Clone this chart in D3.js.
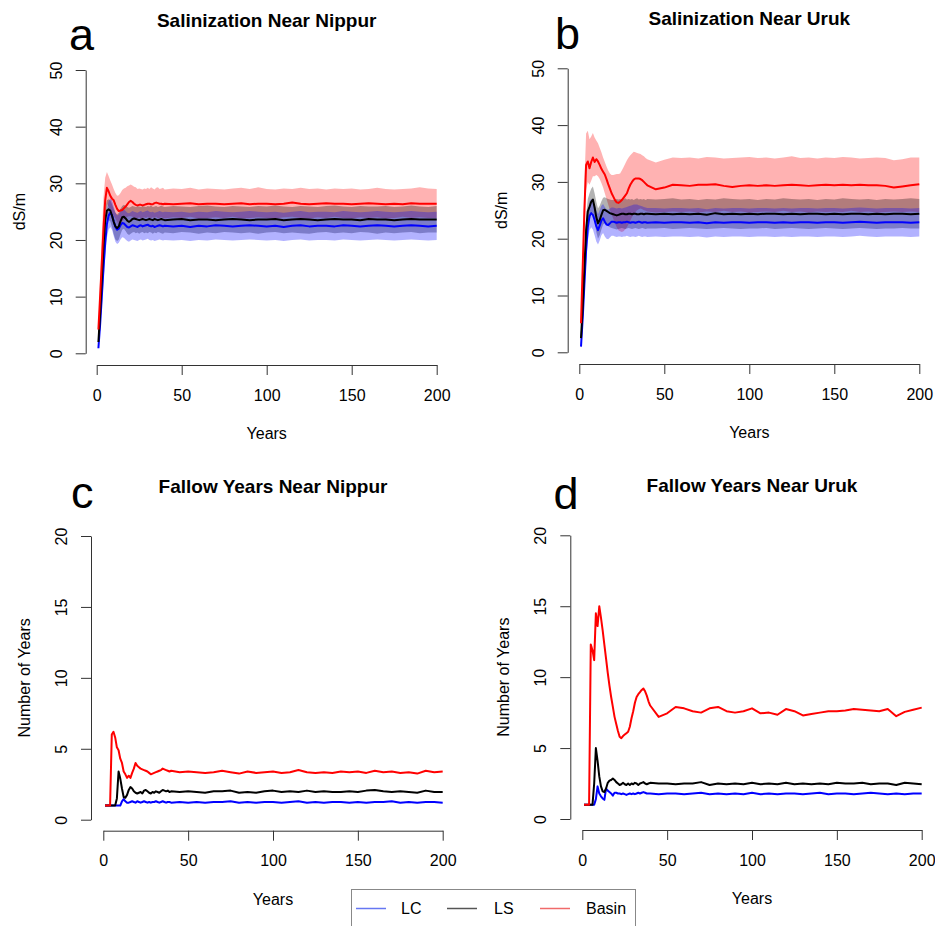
<!DOCTYPE html>
<html>
<head>
<meta charset="utf-8">
<title>Salinization and Fallow Years</title>
<script src="https://cdn.jsdelivr.net/npm/d3@7"></script>
<style>
  body { margin: 0; background: #fff; }
  svg { display: block; }
</style>
</head>
<body>
<svg id="chart" width="935" height="926"></svg>
<script>
// years simulated (yearly to 40, then every 5th year)
var years = [1,2,3,4,5,6,7,8,9,10,11,12,13,14,15,16,17,18,19,20,21,22,23,24,25,26,27,28,29,30,31,32,33,34,35,36,37,38,39,40,
  45,50,55,60,65,70,75,80,85,90,95,100,105,110,115,120,125,130,135,140,145,150,155,160,165,170,175,180,185,190,195,200];

var xTicks = [0, 50, 100, 150, 200];
var salinTicks = [0, 10, 20, 30, 40, 50];
var fallowTicks = [0, 5, 10, 15, 20];
var seriesNames = ['LC', 'LS', 'Basin'];

// a: salinization near Nippur
var aBasin = [4.2,10,16,22,27,29.2,28.6,27.8,27.3,27.0,26.2,25.5,25.1,25.2,25.3,25.6,25.9,26.3,26.7,26.9,26.7,26.4,26.2,26.1,26.2,26.2,26.1,26.2,26.3,26.4,26.4,26.3,26.3,26.5,26.6,26.5,26.4,26.4,26.3,26.4,
  26.3,26.4,26.5,26.3,26.4,26.4,26.3,26.4,26.5,26.3,26.4,26.4,26.3,26.4,26.6,26.4,26.3,26.4,26.5,26.4,26.4,26.3,26.4,26.5,26.4,26.3,26.4,26.3,26.5,26.4,26.4,26.4];
var aBasinHi = [5,13,21,27.5,31,32,31.3,30.5,29.8,29.0,28.3,27.8,27.9,28.3,28.8,29.1,29.2,29.5,29.6,29.8,29.6,29.4,29.3,29.0,29.1,29.0,28.9,29.1,29.0,29.2,29.0,29.3,29.1,28.9,29.2,29.3,29.0,29.1,29.2,28.9,
  29.1,29.0,29.2,28.9,29.1,29.0,28.9,29.1,29.2,29.0,29.3,29.0,28.9,29.1,29.0,29.2,29.0,29.1,28.9,29.1,29.0,29.1,28.9,29.0,29.2,29.0,28.9,29.0,29.1,29.3,29.1,29.0];
var aBasinLo = [3.5,7.5,12,17,23,26.4,25.9,25.2,24.8,24.3,23.8,23.2,22.6,22.8,23.2,23.6,23.9,24.1,24.2,24.2,24.1,23.9,23.8,23.9,24.0,23.8,23.9,24.0,23.9,24.1,23.8,23.9,24.0,23.9,24.1,23.8,23.9,24.0,23.9,23.8,
  24.0,23.9,24.1,23.8,23.9,24.0,23.9,24.1,23.8,23.9,24.0,23.9,23.8,24.0,24.1,23.9,23.8,24.0,23.9,24.1,23.9,23.8,24.0,23.9,24.0,23.8,23.9,24.1,23.9,24.0,23.9,23.9];
var aLS = [2,7,13,19,23.5,25.2,25.4,25.2,24.3,23.2,22.4,22.1,22.4,23.3,24.0,24.1,23.8,23.4,23.2,23.4,23.7,23.8,23.7,23.6,23.5,23.6,23.7,23.6,23.5,23.6,23.7,23.6,23.5,23.7,23.6,23.5,23.6,23.7,23.6,23.5,
  23.6,23.7,23.5,23.6,23.6,23.5,23.6,23.7,23.6,23.5,23.6,23.6,23.7,23.5,23.6,23.7,23.6,23.5,23.6,23.7,23.6,23.6,23.5,23.7,23.6,23.6,23.5,23.6,23.7,23.6,23.6,23.6];
var aLSHi = [2.6,8.5,15,21,25.5,27,27.2,27,26.3,25.5,24.8,24.5,24.8,25.5,26.0,26.2,26.0,25.8,25.7,25.8,26.0,25.9,25.8,26.0,25.9,25.8,26.0,25.9,25.8,26.0,25.9,26.1,25.8,25.9,26.0,25.8,25.9,26.1,25.9,25.8,
  26.0,25.9,25.8,26.0,26.1,25.9,25.8,26.0,25.9,25.8,26.0,25.9,26.1,25.9,25.8,26.0,25.9,25.8,26.0,26.1,25.9,25.8,26.0,25.9,25.9,26.0,25.8,25.9,26.1,25.9,25.8,26.0];
var aLSLo = [1.4,5.5,11,17,21.5,23.3,23.5,23.3,22.3,21.0,20.1,19.8,20.1,21.0,21.8,22.0,21.6,21.1,20.9,21.1,21.3,21.4,21.2,21.3,21.1,21.3,21.4,21.2,21.3,21.2,21.4,21.3,21.1,21.3,21.2,21.4,21.3,21.2,21.1,21.3,
  21.2,21.4,21.3,21.1,21.3,21.2,21.4,21.3,21.2,21.3,21.1,21.3,21.4,21.2,21.3,21.2,21.1,21.3,21.4,21.2,21.3,21.2,21.4,21.3,21.1,21.3,21.2,21.3,21.4,21.2,21.3,21.3];
var aLC = [0.9,5,10,15,19.5,22.8,24.3,24.8,24.4,23.3,22.3,21.8,22.0,22.6,23.0,22.9,22.6,22.3,22.2,22.4,22.6,22.5,22.4,22.3,22.5,22.6,22.4,22.5,22.6,22.7,22.5,22.4,22.5,22.3,22.4,22.5,22.6,22.5,22.4,22.5,
  22.4,22.5,22.3,22.5,22.4,22.6,22.5,22.4,22.5,22.6,22.5,22.4,22.5,22.3,22.5,22.6,22.4,22.5,22.5,22.4,22.6,22.5,22.4,22.5,22.6,22.5,22.4,22.5,22.6,22.5,22.4,22.5];
var aLCHi = [1.2,6,12,17.5,22,25.2,26.8,27.3,27.0,25.9,24.9,24.3,24.5,25.1,25.5,25.4,25.1,24.8,24.7,24.9,25.1,25.0,24.9,24.8,25.0,25.1,24.9,25.0,25.1,25.2,25.0,24.9,25.0,24.8,24.9,25.0,25.1,25.0,24.9,25.0,
  24.9,25.0,24.8,25.0,24.9,25.1,25.0,24.9,25.0,25.1,25.0,24.9,25.0,24.8,25.0,25.1,24.9,25.0,25.0,24.9,25.1,25.0,24.9,25.0,25.1,25.0,24.9,25.0,25.1,25.0,24.9,25.0];
var aLCLo = [0.6,4,8,12.5,17,20.4,21.8,22.3,21.8,20.7,19.7,19.3,19.5,20.1,20.5,20.4,20.1,19.8,19.7,19.9,20.1,20.0,19.9,19.8,20.0,20.1,19.9,20.0,20.1,20.2,20.0,19.9,20.0,19.8,19.9,20.0,20.1,20.0,19.9,20.0,
  19.9,20.0,19.8,20.0,19.9,20.1,20.0,19.9,20.0,20.1,20.0,19.9,20.0,19.8,20.0,20.1,19.9,20.0,20.0,19.9,20.1,20.0,19.9,20.0,20.1,20.0,19.9,20.0,20.1,20.0,19.9,20.0];

// b: salinization near Uruk
var bBasin = [5.1,15,25,33.0,33.6,32.4,33.5,34.3,33.5,34.0,33.6,33.0,32.3,31.8,31.3,30.5,29.6,28.8,28.0,27.4,26.8,26.4,26.3,26.5,26.8,27.2,27.6,28.0,28.8,29.5,30.0,30.4,30.6,30.6,30.6,30.5,30.3,30.0,29.7,29.4,
  28.7,29.0,29.5,29.4,29.3,29.5,29.5,29.6,29.3,29.1,29.3,29.4,29.3,29.4,29.3,29.4,29.5,29.4,29.3,29.4,29.5,29.4,29.5,29.4,29.5,29.4,29.4,29.3,29.0,29.2,29.4,29.6];
var bBasinHi = [5.5,17,30,38.5,39.0,37.5,38.0,38.6,37.8,37.3,36.8,36.0,35.2,34.3,33.5,32.7,32.0,31.5,31.2,31.2,31.3,31.4,31.4,31.5,32.0,32.6,33.2,33.8,34.3,34.7,35.0,35.3,35.2,35.1,35.0,34.9,34.7,34.5,34.2,34.0,
  33.4,33.9,34.3,34.2,34.3,34.1,34.4,34.3,34.1,34.2,34.3,34.4,34.2,34.3,34.1,34.3,34.5,34.2,34.3,34.1,34.3,34.2,34.4,34.3,34.1,34.2,34.3,34.2,33.8,34.0,34.3,34.3];
var bBasinLo = [4.7,12,20,28.5,30.0,29.5,30.2,31.0,31.0,31.2,31.0,30.5,29.8,29.0,28.0,27.0,26.0,25.0,24.2,23.5,22.7,22.0,21.5,21.3,21.2,21.3,21.6,22.0,22.6,23.2,23.8,24.3,24.7,25.0,25.2,25.3,25.2,25.0,24.9,24.8,
  24.6,24.7,24.8,24.7,24.8,24.6,24.8,24.7,24.9,24.7,24.8,24.6,24.7,24.8,24.7,24.9,24.7,24.8,24.6,24.8,24.7,24.8,24.7,24.9,24.7,24.8,24.6,24.7,24.8,24.7,24.8,24.7];
var bLS = [2.5,8,15,21.5,24.8,25.6,26.5,26.9,25.5,23.8,22.7,23.3,24.2,25.0,25.1,24.9,24.7,24.5,24.4,24.3,24.2,24.1,24.2,24.3,24.4,24.4,24.3,24.3,24.4,24.4,24.3,24.4,24.4,24.3,24.3,24.4,24.4,24.3,24.4,24.4,
  24.3,24.4,24.3,24.4,24.3,24.4,24.2,24.5,24.3,24.4,24.3,24.4,24.3,24.4,24.4,24.3,24.4,24.3,24.4,24.4,24.3,24.4,24.3,24.4,24.4,24.3,24.4,24.3,24.4,24.4,24.3,24.4];
var bLSHi = [3,9.5,17,24,27,28,28.8,29.2,28.0,26.5,25.3,25.8,26.6,27.2,27.3,27.1,27.0,26.9,26.8,26.8,26.9,27.0,26.9,27.0,26.8,27.0,27.1,26.9,27.0,26.9,27.0,26.8,27.0,27.1,26.9,27.0,26.9,27.0,26.8,27.0,
  26.9,27.0,27.1,26.9,27.0,26.8,27.0,26.9,27.1,27.0,26.9,27.0,26.8,27.0,26.9,27.1,27.0,26.9,27.0,26.8,27.0,26.9,27.1,27.0,26.9,27.0,26.8,27.0,26.9,27.0,27.1,27.0];
var bLSLo = [2,6.5,13,19,22.5,23.3,24.2,24.6,23.0,21.2,20.0,20.6,21.6,22.5,22.7,22.5,22.2,22.0,21.9,21.8,21.7,21.6,21.7,21.8,21.9,21.8,21.7,21.8,21.9,21.8,21.7,21.8,21.9,21.8,21.7,21.8,21.9,21.8,21.7,21.8,
  21.8,21.9,21.7,21.8,21.9,21.8,21.7,21.8,21.9,21.8,21.7,21.8,21.8,21.9,21.7,21.8,21.9,21.8,21.7,21.8,21.9,21.8,21.7,21.8,21.9,21.8,21.7,21.8,21.8,21.9,21.8,21.8];
var bLC = [1.0,6,12,18,22,24,24.5,24.2,23.3,22.2,21.5,22.3,23.2,23.6,23.0,22.5,22.4,22.7,23.0,23.0,22.9,22.8,22.9,22.9,22.8,22.9,22.9,23.0,22.9,22.8,22.9,22.9,22.8,22.9,23.0,22.9,22.8,22.9,22.9,22.8,
  22.9,22.8,22.9,22.9,22.8,22.9,22.7,22.9,22.8,22.9,22.9,22.8,22.9,22.9,22.8,22.9,22.8,22.9,22.9,22.8,22.9,22.9,22.8,22.9,23.0,22.9,22.8,22.9,22.9,22.9,22.8,22.9];
var bLCHi = [1.3,7.5,14,20.5,24.5,26.5,27.0,26.8,26.0,25.0,24.3,25.0,25.8,26.1,25.6,25.2,25.1,25.3,25.5,25.5,25.4,25.3,25.4,25.4,25.3,25.4,25.5,25.6,25.7,25.8,25.9,26.0,26.0,26.0,25.9,25.8,25.7,25.6,25.5,25.4,
  25.4,25.3,25.4,25.4,25.3,25.4,25.2,25.4,25.3,25.4,25.4,25.3,25.4,25.4,25.3,25.4,25.3,25.4,25.4,25.3,25.4,25.4,25.3,25.4,25.5,25.4,25.3,25.4,25.4,25.4,25.3,25.4];
var bLCLo = [0.7,4.5,10,15.5,19.5,21.5,22.0,21.6,20.6,19.5,19.0,19.7,20.6,21.0,20.4,20.0,19.9,20.2,20.5,20.5,20.4,20.3,20.4,20.4,20.3,20.4,20.4,20.5,20.4,20.3,20.4,20.4,20.3,20.4,20.5,20.4,20.3,20.4,20.4,20.3,
  20.4,20.3,20.4,20.4,20.3,20.4,20.2,20.4,20.3,20.4,20.4,20.3,20.4,20.4,20.3,20.4,20.3,20.4,20.4,20.3,20.4,20.4,20.3,20.4,20.5,20.4,20.3,20.4,20.4,20.4,20.3,20.4];

// c: fallow years near Nippur
var cBasin = [1,1,1,1,6.0,6.2,5.8,5.1,4.9,4.3,4.0,3.4,3.2,2.95,3.1,2.95,3.3,3.6,4.0,3.8,3.7,3.6,3.55,3.5,3.45,3.4,3.3,3.2,3.25,3.3,3.35,3.4,3.45,3.5,3.6,3.55,3.5,3.45,3.4,3.45,
  3.35,3.4,3.35,3.3,3.35,3.45,3.35,3.25,3.4,3.3,3.35,3.4,3.3,3.35,3.5,3.35,3.3,3.35,3.3,3.4,3.35,3.4,3.3,3.45,3.35,3.4,3.3,3.35,3.25,3.45,3.35,3.4];
var cLS = [1,1,1,1,1,1,1,1.5,3.4,2.9,2.2,1.6,1.55,1.75,2.1,2.3,2.2,2.0,1.9,1.85,1.9,1.95,1.85,2.05,2.1,2.0,1.9,1.85,1.95,1.9,2.0,1.95,1.9,2.0,2.1,2.05,2.0,2.05,1.95,2.0,
  1.95,2.0,1.95,1.9,2.0,2.0,2.05,1.9,1.95,1.9,2.0,2.05,1.95,2.0,1.95,2.05,1.95,2.0,1.95,1.95,2.0,1.95,2.05,2.1,2.0,1.95,2.0,1.95,1.9,2.05,1.95,1.95];
var cLC = [1,1,1,1,1,1,1,1,1,1,1.3,1.45,1.3,1.2,1.2,1.25,1.3,1.25,1.2,1.3,1.25,1.2,1.25,1.3,1.25,1.2,1.25,1.2,1.25,1.25,1.3,1.25,1.2,1.25,1.3,1.25,1.2,1.25,1.25,1.2,
  1.25,1.2,1.25,1.2,1.25,1.25,1.3,1.2,1.25,1.2,1.25,1.25,1.2,1.25,1.3,1.2,1.25,1.2,1.25,1.25,1.2,1.25,1.2,1.25,1.25,1.3,1.2,1.25,1.2,1.25,1.25,1.2];

// d: fallow years near Uruk
var dBasin = [1,1,1,1,12.3,11.9,11.2,14.5,13.6,15.0,14.2,13.3,12.3,11.3,10.3,9.4,8.6,7.9,7.2,6.7,6.2,5.8,5.7,5.85,5.95,6.05,6.15,6.5,7.1,7.6,8.2,8.6,8.8,8.95,9.1,9.2,9.0,8.7,8.3,8.0,
  7.2,7.45,7.9,7.8,7.6,7.5,7.8,7.9,7.6,7.5,7.6,7.8,7.45,7.5,7.35,7.75,7.6,7.3,7.4,7.5,7.6,7.6,7.65,7.75,7.7,7.65,7.6,7.75,7.25,7.55,7.7,7.85];
var dLS = [1,1,1,1,1,1,2.5,5.0,4.1,3.0,2.3,1.95,1.9,2.15,2.55,2.7,2.75,2.85,2.75,2.6,2.5,2.4,2.45,2.55,2.45,2.4,2.5,2.4,2.5,2.45,2.55,2.5,2.4,2.5,2.55,2.6,2.5,2.45,2.5,2.55,
  2.5,2.5,2.45,2.5,2.5,2.6,2.4,2.5,2.45,2.5,2.45,2.55,2.45,2.5,2.45,2.55,2.45,2.5,2.45,2.5,2.45,2.55,2.5,2.5,2.55,2.45,2.5,2.5,2.4,2.55,2.5,2.45];
var dLC = [1,1,1,1,1,1,1,1.4,2.3,1.8,1.6,1.45,1.35,2.15,2.0,1.9,1.8,1.65,1.85,1.85,1.8,1.8,1.75,1.8,1.75,1.7,1.75,1.8,1.75,1.8,1.75,1.8,1.85,1.8,1.85,1.9,1.85,1.8,1.8,1.8,
  1.75,1.8,1.8,1.75,1.8,1.85,1.75,1.8,1.75,1.8,1.75,1.85,1.75,1.8,1.75,1.8,1.8,1.75,1.8,1.85,1.75,1.8,1.8,1.75,1.8,1.85,1.8,1.75,1.8,1.75,1.8,1.8];

var font = '"Liberation Sans", Arial, Helvetica, sans-serif';
var lineColors = { LC: '#0000ff', LS: '#000000', Basin: '#ff0000' };
var bandColors = { LC: 'rgba(0,0,255,0.3)', LS: 'rgba(0,0,0,0.3)', Basin: 'rgba(255,0,0,0.3)' };
var legendColors = { LC: '#6677f2', LS: '#555555', Basin: '#f06a6a' };

var svg = d3.select('#chart');

// panel frames (pixel layout only)
var panels = [
  { letter: 'a', title: 'Salinization Near Nippur', ylab: 'dS/m', max: 50, ticks: salinTicks,
    x0: 96.7, x1: 436.7, yb: 353.3, yt: 70, axY: 365, axX: 85.7, titleY: 27, lx: 69, ly: 50,
    lines: { LC: aLC, LS: aLS, Basin: aBasin },
    bands: { Basin: [aBasinLo, aBasinHi], LS: [aLSLo, aLSHi], LC: [aLCLo, aLCHi] } },
  { letter: 'b', title: 'Salinization Near Uruk', ylab: 'dS/m', max: 50, ticks: salinTicks,
    x0: 579.3, x1: 919.3, yb: 352.3, yt: 68.3, axY: 364, axX: 567.7, titleY: 25, lx: 555, ly: 49,
    lines: { LC: bLC, LS: bLS, Basin: bBasin },
    bands: { Basin: [bBasinLo, bBasinHi], LS: [bLSLo, bLSHi], LC: [bLCLo, bLCHi] } },
  { letter: 'c', title: 'Fallow Years Near Nippur', ylab: 'Number of Years', max: 20, ticks: fallowTicks,
    x0: 103.3, x1: 442.7, yb: 819.7, yt: 536, axY: 830.7, axX: 91, titleY: 493, lx: 71, ly: 508,
    lines: { LC: cLC, LS: cLS, Basin: cBasin }, bands: null },
  { letter: 'd', title: 'Fallow Years Near Uruk', ylab: 'Number of Years', max: 20, ticks: fallowTicks,
    x0: 582.3, x1: 921.7, yb: 819, yt: 535.3, axY: 830, axX: 570.3, titleY: 492, lx: 553.5, ly: 509,
    lines: { LC: dLC, LS: dLS, Basin: dBasin }, bands: null }
];

panels.forEach(function (p) {
    var x = d3.scaleLinear().domain([0, 200]).range([p.x0, p.x1]);
    var y = d3.scaleLinear().domain([0, p.max]).range([p.yb, p.yt]);
    var g = svg.append('g');

    // confidence bands
    if (p.bands) {
        ['Basin', 'LS', 'LC'].forEach(function (k) {
            var lo = p.bands[k][0], hi = p.bands[k][1];
            var area = d3.area()
                .x(function (d, i) { return x(years[i]); })
                .y0(function (d, i) { return y(lo[i]); })
                .y1(function (d, i) { return y(hi[i]); });
            g.append('path').datum(lo).attr('d', area).attr('fill', bandColors[k]);
        });
    }

    // mean lines
    ['LC', 'LS', 'Basin'].forEach(function (k) {
        var line = d3.line()
            .x(function (d, i) { return x(years[i]); })
            .y(function (d) { return y(d); });
        g.append('path').datum(p.lines[k]).attr('d', line)
            .attr('fill', 'none').attr('stroke', lineColors[k])
            .attr('stroke-width', 2).attr('stroke-linejoin', 'round');
    });

    // x axis
    var gx = g.append('g')
        .attr('transform', 'translate(0,' + p.axY + ')')
        .call(d3.axisBottom(x).tickValues(xTicks).tickSize(10).tickSizeOuter(0));
    gx.attr('font-family', font).attr('font-size', 16);
    gx.selectAll('line, .domain').attr('stroke', '#333');
    gx.selectAll('text').attr('y', 30).attr('dy', '0.35em').attr('fill', '#000');

    // y axis
    var gy = g.append('g')
        .attr('transform', 'translate(' + p.axX + ',0)')
        .call(d3.axisLeft(y).tickValues(p.ticks).tickSize(10).tickSizeOuter(0));
    gy.attr('font-family', font).attr('font-size', 16);
    gy.selectAll('line, .domain').attr('stroke', '#333');
    gy.selectAll('text')
        .attr('x', null).attr('dy', '0.35em')
        .attr('text-anchor', 'middle').attr('fill', '#000')
        .attr('transform', 'translate(-29.5,0) rotate(-90)');

    // titles
    g.append('text')
        .attr('x', (p.x0 + p.x1) / 2).attr('y', p.titleY)
        .attr('text-anchor', 'middle')
        .attr('font-family', font).attr('font-size', 19).attr('font-weight', 'bold')
        .text(p.title);
    g.append('text')
        .attr('x', (p.x0 + p.x1) / 2).attr('y', p.axY + 68.7).attr('dy', '0.35em')
        .attr('text-anchor', 'middle')
        .attr('font-family', font).attr('font-size', 16)
        .text('Years');
    g.append('text')
        .attr('transform', 'translate(' + (p.axX - 66.5) + ',' + ((p.yb + p.yt) / 2) + ') rotate(-90)')
        .attr('dy', '0.35em')
        .attr('text-anchor', 'middle')
        .attr('font-family', font).attr('font-size', 16)
        .text(p.ylab);
    g.append('text')
        .attr('x', p.lx).attr('y', p.ly)
        .attr('font-family', font).attr('font-size', 45)
        .text(p.letter);
});

// legend
var legend = svg.append('g');
legend.append('rect')
    .attr('x', 351.5).attr('y', 889.5).attr('width', 284).attr('height', 60)
    .attr('fill', '#fff').attr('stroke', '#888');
var legendLineX = [356, 447, 540];
var legendTextX = [401, 494, 586];
seriesNames.forEach(function (k, i) {
    legend.append('line')
        .attr('x1', legendLineX[i]).attr('x2', legendLineX[i] + 30)
        .attr('y1', 908.5).attr('y2', 908.5)
        .attr('stroke', legendColors[k]).attr('stroke-width', 1.5);
    legend.append('text')
        .attr('x', legendTextX[i]).attr('y', 908.5).attr('dy', '0.35em')
        .attr('font-family', font).attr('font-size', 16)
        .text(k);
});
</script>
</body>
</html>
